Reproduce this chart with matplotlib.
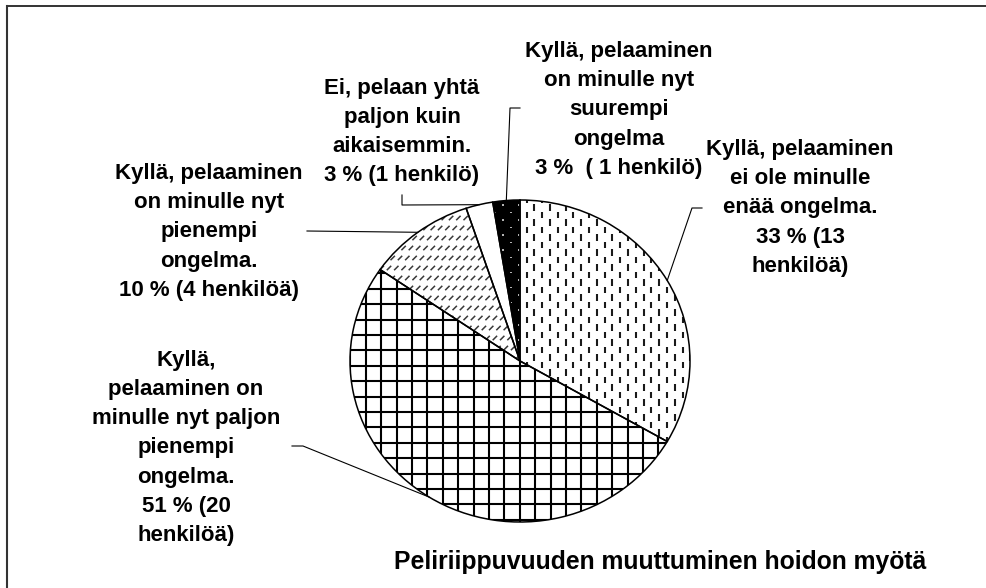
import numpy as np
import matplotlib
matplotlib.use("Agg")
import matplotlib.pyplot as plt
from matplotlib.collections import LineCollection
from matplotlib.transforms import IdentityTransform
from matplotlib.lines import Line2D
from matplotlib.patches import Wedge

# ---------------- data ----------------
counts = [13, 20, 4, 1, 1]
labels = [
    "Kyllä, pelaaminen\nei ole minulle\nenää ongelma.\n33 % (13\nhenkilöä)",
    "Kyllä,\npelaaminen on\nminulle nyt paljon\npienempi\nongelma.\n51 % (20\nhenkilöä)",
    "Kyllä, pelaaminen\non minulle nyt\npienempi\nongelma.\n10 % (4 henkilöä)",
    "Ei, pelaan yhtä\npaljon kuin\naikaisemmin.\n3 % (1 henkilö)",
    "Kyllä, pelaaminen\non minulle nyt\nsuurempi\nongelma\n3 %  ( 1 henkilö)",
]
title = "Peliriippuvuuden muuttuminen hoidon myötä"

# ---------------- layout (reference pixel coords, origin top-left) ----------------
W, H, DPI = 986, 588, 100
CX, CY, RX, RY = 520, 361, 170, 161
label_xy = [(800, 208), (186, 448), (209, 232), (402, 132), (619, 110)]
leader_tail = [[(692, 208), (702, 208)],
               [(303, 446), (292, 446)],
               [(307, 231)],
               [(402, 205), (402, 195)],
               [(510, 108), (520, 108)]]
FONT = "Liberation Sans"

fig = plt.figure(figsize=(W / DPI, H / DPI), dpi=DPI)
fig.patch.set_facecolor("white")
ax = fig.add_axes([(CX - RX) / W, (H - (CY + RY)) / H, 2 * RX / W, 2 * RY / H])
face = ["white", "white", "white", "white", "black"]
wedges, _ = ax.pie(counts, startangle=90, counterclock=False, colors=face,
                   wedgeprops=dict(edgecolor="none", linewidth=0))
ax.set_aspect("auto")
ax.set_xlim(-1, 1)
ax.set_ylim(-1, 1)
ax.axis("off")
for w in wedges:
    w.set_clip_on(False)


def disp(p):
    return (p[0], H - p[1])


def add_segments(segs, wedge, color, lw, capstyle="butt"):
    lc = LineCollection([[disp(a), disp(b)] for a, b in segs], colors=color,
                        linewidths=lw, transform=IdentityTransform(),
                        capstyle=capstyle, zorder=2)
    ax.add_collection(lc, autolim=False)
    lc.set_clip_path(wedge)


def lattice(x0, y0, dx, dy, stagger=True):
    pts = []
    for i in range(-60, 60):
        x = x0 + i * dx
        if x < CX - RX - 5 or x > CX + RX + 5:
            continue
        for j in range(-60, 60):
            y = y0 + j * dy + ((i % 2) * dy / 2 if stagger else 0)
            if CY - RY - 5 <= y <= CY + RY + 5:
                pts.append((x, y))
    return pts


# 33 %: staggered short vertical dashes
segs = [((x, y - 3.2), (x, y + 3.2)) for x, y in lattice(526.5, 260, 7.8, 15)]
add_segments(segs, wedges[0], "#1a1a1a", 1.5)

# 51 %: square grid
grid = []
for k in range(-40, 40):
    x = 365.7 + k * 15.4
    if CX - RX - 2 <= x <= CX + RX + 2:
        grid.append(((x, CY - RY - 2), (x, CY + RY + 2)))
    y = 273.3 + k * 15.4
    if CY - RY - 2 <= y <= CY + RY + 2:
        grid.append(((CX - RX - 2, y), (CX + RX + 2, y)))
add_segments(grid, wedges[1], "black", 1.5)

# 10 %: rows of short diagonal strokes
diag = []
for j in range(-40, 40):
    y = 238 + j * 10
    if not (CY - RY - 5 <= y <= CY + RY + 5):
        continue
    for i in range(-80, 80):
        x = 400 + i * 7.3 + (j % 2) * 3.6
        if CX - RX - 5 <= x <= CX + RX + 5:
            diag.append(((x - 2.2, y + 2.2), (x + 2.2, y - 2.2)))
add_segments(diag, wedges[2], "#3a3a3a", 1.1)

# 3 % black: small light dots
dots = [((x, y - 0.8), (x, y + 0.8)) for x, y in lattice(518.7, 205, 7.8, 15)]
add_segments(dots, wedges[4], "#d8d8d8", 1.2)

# wedge outlines on top
for w in wedges:
    ax.add_patch(Wedge(w.center, w.r, w.theta1, w.theta2, fill=False,
                       edgecolor="black", linewidth=1.1, zorder=3, clip_on=False))

# leader lines (start at the mid-angle of each wedge on the rim)
for w, tail in zip(wedges, leader_tail):
    t = np.deg2rad((w.theta1 + w.theta2) / 2)
    edge = (CX + RX * np.cos(t), CY - RY * np.sin(t))
    pts = [edge] + tail
    xs = [p[0] for p in pts]
    ys = [H - p[1] for p in pts]
    fig.add_artist(Line2D(xs, ys, transform=IdentityTransform(),
                          color="black", linewidth=0.8))

# labels
for s, (x, y) in zip(labels, label_xy):
    fig.text(x / W, 1 - y / H, s, ha="center", va="center", ma="center",
             fontsize=16, fontweight="bold", family=FONT, linespacing=1.51,
             color="black")

fig.text(660 / W, 1 - 562 / H, title, ha="center", va="center",
         fontsize=17.8, fontweight="bold", family=FONT, color="black")

# frame (top and left edges visible)
fig.add_artist(Line2D([7 / W, 1], [1 - 6 / H, 1 - 6 / H], transform=fig.transFigure,
                      color="#333333", linewidth=1.4))
fig.add_artist(Line2D([7 / W, 7 / W], [0, 1 - 6 / H], transform=fig.transFigure,
                      color="#333333", linewidth=1.5))

fig.savefig("out.png", dpi=DPI, facecolor="white")
